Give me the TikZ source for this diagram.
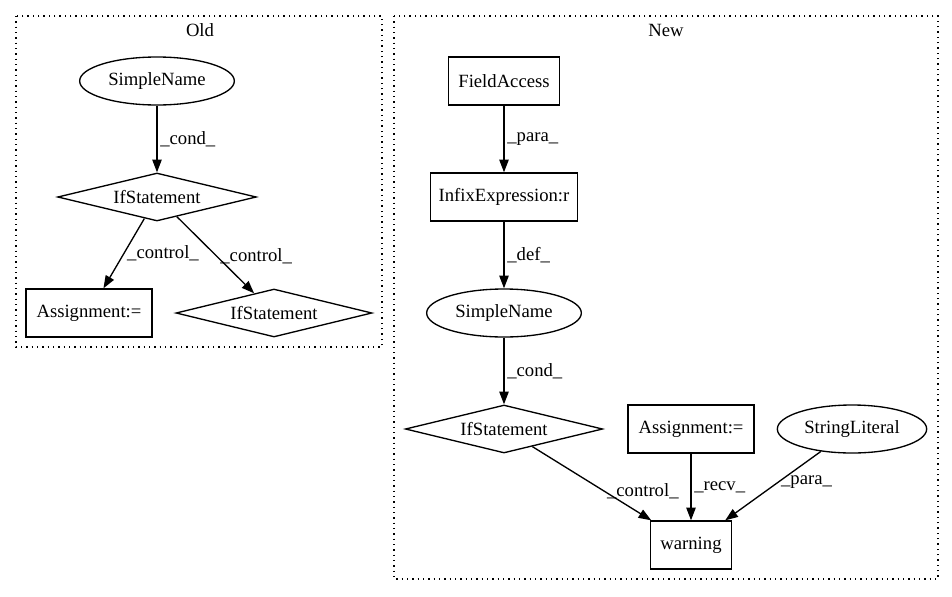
\documentclass[tikz,border=0pt]{standalone}
\usepackage{fontspec}
\setmainfont{Liberation Serif}
\usetikzlibrary{shapes.geometric,arrows.meta}

\begin{document}
\begin{tikzpicture}[x=0.75pt,y=-0.75pt,
    every node/.style={font=\fontsize{14}{16}\selectfont},
    box/.style={rectangle,draw,line width=1pt,minimum height=36pt,inner sep=0pt},
    oval/.style={ellipse,draw,line width=1pt,minimum height=36pt,inner sep=0pt},
    cond/.style={diamond,draw,line width=1pt,aspect=4.14,minimum height=36pt,inner sep=0pt},
    cluster/.style={draw,line width=1pt,dash pattern=on 1pt off 3pt},
    edge/.style={draw,line width=1pt,-{Triangle[length=9.5pt,width=7pt]}}]
      \useasboundingbox (0,0) rectangle (952,596);
      % clusters
      \draw[cluster] (16,16) rectangle (382,347);
      \node (oldtitle) at (200,30) {Old};
      \draw[cluster] (394,16) rectangle (938,579);
      \node (newtitle) at (666,30) {New};
      % nodes
      \foreach \pos/\name/\kind/\w/\txt in {{(157,81)/oldname/oval/116pt/SimpleName}, {(157,197)/oldif/cond/149pt/IfStatement}, {(89,313)/oldassign/box/94.5pt/Assignment:=}, {(274,313)/oldiff/cond/147pt/IfStatement}, {(504,81)/field/box/83pt/FieldAccess}, {(504,197)/infix/box/110pt/InfixExpression:r}, {(504,313)/newname/oval/116pt/SimpleName}, {(504,429)/newif/cond/148pt/IfStatement}, {(691,429)/newassign/box/94.5pt/Assignment:=}, {(852,429)/strlit/oval/112pt/StringLiteral}, {(691,545)/warning/box/61pt/warning}}
      \node[\kind,minimum width=\w] (\name) at \pos {\txt};
      % edges
      \foreach \source/\dest/\where/\lab in {oldname/oldif/0.5/\_cond\_, oldif/oldassign/0.5/\_control\_, oldif/oldiff/0.52/\_control\_, field/infix/0.5/\_para\_, infix/newname/0.5/\_def\_, newname/newif/0.5/\_cond\_, newif/warning/0.6/\_control\_, newassign/warning/0.5/\_recv\_, strlit/warning/0.45/\_para\_}
      \path[edge] (\source) -- node[right,pos=\where,inner sep=2pt] {\lab} (\dest);
    \end{tikzpicture}
\end{document}
